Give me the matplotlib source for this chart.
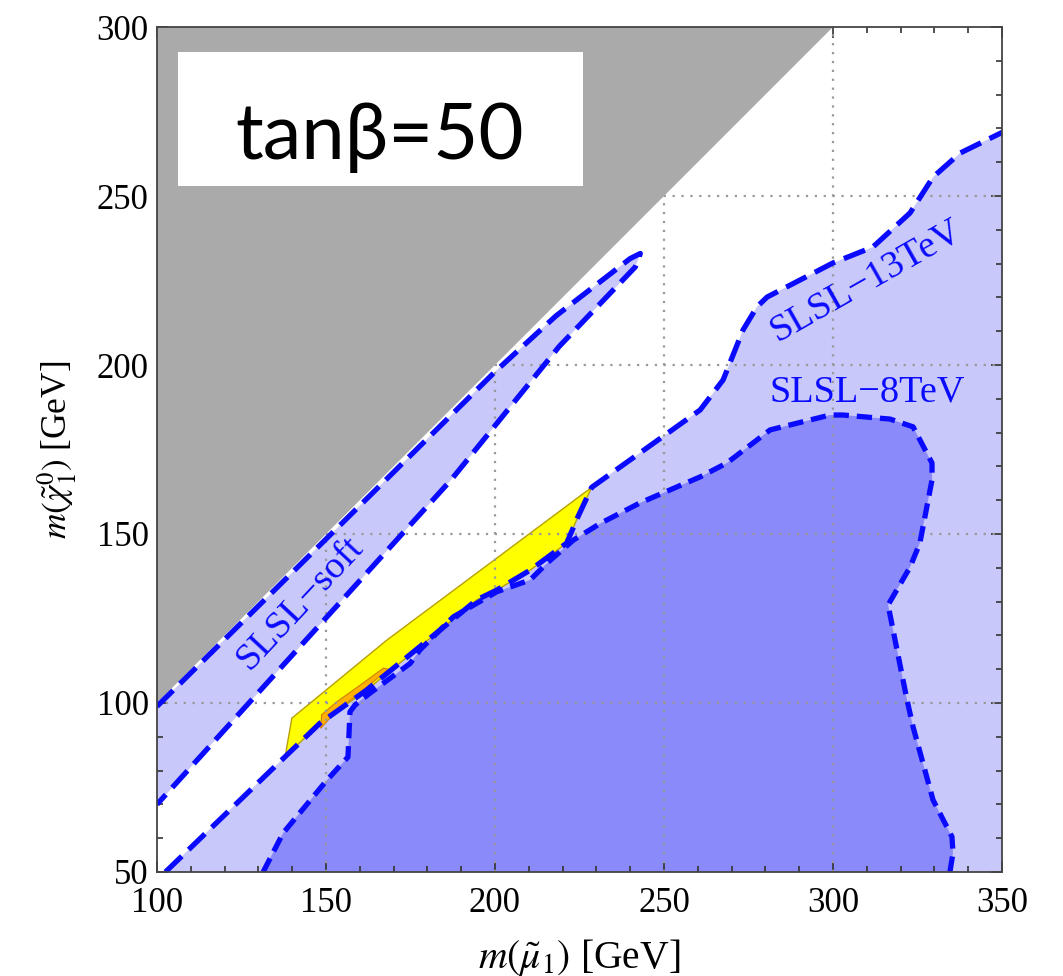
import matplotlib
matplotlib.use("Agg")
import matplotlib.pyplot as plt
from matplotlib.ticker import MultipleLocator
from matplotlib.patches import Rectangle

# kinematically forbidden region: m(chi) > m(mu)
forbidden_x = [100, 300, 100]
forbidden_y = [100, 300, 300]

# SLSL-soft band (upper edge, then lower edge back down)
soft_upper_x = [100, 150, 200, 218, 240, 243]
soft_upper_y = [99, 148.5, 198, 214.5, 231.5, 233]
soft_lower_x = [241.5, 219, 187, 100]
soft_lower_y = [229, 205.5, 166, 70]

# SLSL-13TeV exclusion boundary
lhc13_x = [102.5, 137.9, 148.2, 162, 177.8, 194.6, 200.5, 210.4, 221.2, 224.5, 228.6,
           260.7, 267.5, 273.4, 277.5, 280.5, 300, 311.8, 322.8, 329.6, 337.6, 351]
lhc13_y = [50, 84.1, 94, 103.8, 116.7, 130.5, 133.4, 139.3, 147.3, 155, 163.8,
           186.7, 195.6, 210.4, 217.2, 220.1, 230.2, 234.9, 245, 255.6, 262.7, 269.3]

# SLSL-8TeV exclusion boundary
lhc8_x = [131.4, 137.3, 150.3, 156.5, 157.1, 158.6, 163, 174.9, 177.8, 187.7, 200.5, 210.4,
          215.3, 223.2, 231.1, 242.9, 260.7, 268.6, 281.4, 299.1, 303, 316.9, 323.7, 329.3,
          329.3, 325.7, 322.8, 316.3, 321.9, 323.7, 329.6, 335.2, 335.5, 334.6]
lhc8_y = [50, 61.5, 77.2, 84, 97.4, 99.4, 102.9, 111.7, 115.7, 125.5, 132.9, 136.4,
          141.3, 148.2, 153.1, 159.2, 166.9, 171, 180.8, 185.2, 185.2, 184, 181.7, 171,
          166, 147.3, 140.2, 129, 100.9, 92.9, 71.3, 60.4, 55.6, 50]

# allowed (yellow) and best-fit (orange) regions
allowed_x = [137.9, 139.9, 168, 228.6, 224.5, 221.2, 210.4, 200.5, 194.6, 177.8, 162, 148.2, 137.9]
allowed_y = [84.1, 95.5, 118.6, 163.8, 155, 147.3, 139.3, 133.4, 130.5, 116.7, 103.8, 94, 84.1]
best_x = [148.4, 148.7, 153, 160, 167, 168.5, 161, 153, 148.4]
best_y = [92.5, 96.5, 100.2, 105.2, 110.3, 110, 103.8, 97.5, 92.5]

blue = "#0a0aff"
light = "#c8c8fa"
dark = "#8a8afa"

plt.rcParams["font.family"] = ["Liberation Serif", "DejaVu Serif"]
plt.rcParams["mathtext.fontset"] = "stix"

fig = plt.figure(figsize=(10.63, 9.76), dpi=100)
ax = fig.add_axes([0.1477, 0.1066, 0.7949, 0.8657])
ax.set_xlim(100, 350)
ax.set_ylim(50, 300)

# filled regions
ax.fill(soft_upper_x + soft_lower_x, soft_upper_y + soft_lower_y, color=light, lw=0, zorder=1)
ax.fill(lhc13_x + [351, 351], lhc13_y + [50, 50], color=light, lw=0, zorder=1)
ax.fill(lhc8_x, lhc8_y, color=dark, lw=0, zorder=1.1)
ax.fill(allowed_x, allowed_y, facecolor="#ffff00", edgecolor="#b8a000", lw=1.0, zorder=1.2)
ax.fill(best_x, best_y, facecolor="#ffb000", edgecolor="#d08000", lw=0.8, zorder=1.3)

# grid sits over the fills but under the forbidden wedge
for v in [150, 200, 250, 300]:
    ax.axvline(v, color="#999999", lw=1.6, ls=(0, (1, 3)), zorder=2)
for h in [100, 150, 200, 250]:
    ax.axhline(h, color="#999999", lw=1.6, ls=(0, (1, 3)), zorder=2)

ax.fill(forbidden_x, forbidden_y, color="#aaaaaa", lw=0, zorder=3)

# contour lines
ax.plot(soft_upper_x + soft_lower_x, soft_upper_y + soft_lower_y, color=blue, lw=3.8,
        ls=(0, (4.3, 1.8)), zorder=4)
ax.plot(lhc13_x, lhc13_y, color=blue, lw=3.8, ls=(0, (4.3, 1.8)), zorder=4)
ax.plot(lhc8_x, lhc8_y, color=blue, lw=3.8, ls=(0, (2.9, 1.5)), zorder=4.1)

ax.text(142.3, 129.6, "SLSL\u2212soft", color=blue, fontsize=27.5, rotation=47,
        ha="center", va="center", zorder=5)
ax.text(309.8, 225, "SLSL\u221213TeV", color=blue, fontsize=27.5, rotation=29.5,
        ha="center", va="center", zorder=5)
ax.text(310, 192, "SLSL\u22128TeV", color=blue, fontsize=27.5,
        ha="center", va="center", zorder=5)

# tan beta label box
box = Rectangle((0.0249, 0.812), 0.4795, 0.158, transform=ax.transAxes,
                facecolor="white", edgecolor="none", zorder=6)
ax.add_patch(box)
ax.text(0.264, 0.8438, "tan\u03b2=50", transform=ax.transAxes, fontsize=56,
        family=["Lato", "DejaVu Sans"], ha="center", va="baseline", zorder=7)

ax.xaxis.set_major_locator(MultipleLocator(50))
ax.yaxis.set_major_locator(MultipleLocator(50))
ax.xaxis.set_minor_locator(MultipleLocator(10))
ax.yaxis.set_minor_locator(MultipleLocator(10))
ax.tick_params(which="both", direction="in", top=True, right=True, width=1.2,
               colors="#333333", labelcolor="black", labelsize=25)
ax.tick_params(which="major", length=8)
ax.tick_params(which="minor", length=4.5)
ax.tick_params(axis="x", which="major", pad=11)
ax.tick_params(axis="y", which="major", pad=6)
for s in ax.spines.values():
    s.set_color("#444444")
    s.set_linewidth(1.3)
    s.set_zorder(8)

ax.set_xlabel(r"$m(\tilde{\mu}_1)$ [GeV]", fontsize=28.5, labelpad=12)
ax.set_ylabel(r"$m(\tilde{\chi}_1^0)$ [GeV]", fontsize=25.5, labelpad=12)

fig.savefig("out.png", dpi=100)
